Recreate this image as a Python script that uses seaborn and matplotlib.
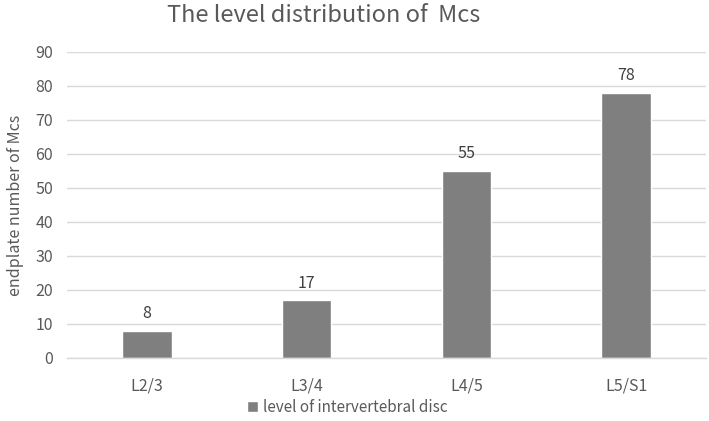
import matplotlib
matplotlib.use("Agg")
import matplotlib.pyplot as plt
import seaborn as sns
import pandas as pd

# data
levels = ["L2/3", "L3/4", "L4/5", "L5/S1"]
counts = [8, 17, 55, 78]
y_ticks = list(range(0, 100, 10))

df = pd.DataFrame({"level": levels, "count": counts})

sns.set_style("white")
plt.rcParams["font.family"] = ["Noto Sans CJK SC", "DejaVu Sans"]

text_col = "#595959"
bar_col = "#7f7f7f"

fig = plt.figure(figsize=(7.09, 4.21), dpi=100)
ax = fig.add_axes([67 / 709, 1 - 358 / 421, (706 - 67) / 709, (358 - 52) / 421])

sns.barplot(data=df, x="level", y="count", color=bar_col, width=0.31,
            saturation=1, ax=ax, label="level of intervertebral disc")
handles, labels = ax.get_legend_handles_labels()
if ax.get_legend() is not None:
    ax.get_legend().remove()

ax.set_ylim(0, 90)
ax.set_xlim(-0.5, 3.5)
ax.set_yticks(y_ticks)
ax.yaxis.grid(True, color="#d9d9d9", linewidth=1)
ax.set_axisbelow(True)
for s in ["top", "right", "left"]:
    ax.spines[s].set_visible(False)
ax.spines["bottom"].set_color("#d9d9d9")
ax.spines["bottom"].set_linewidth(1)

# category boundary ticks like excel
ax.set_xticks([i - 0.5 for i in range(len(levels) + 1)], minor=True)
ax.tick_params(axis="x", which="minor", length=5, color="#d9d9d9", width=1)
ax.tick_params(axis="x", which="major", length=0, pad=14, labelsize=11.5, labelcolor=text_col)
ax.tick_params(axis="y", length=0, pad=10, labelsize=11.5, labelcolor=text_col)

ax.set_xlabel("")
ax.set_ylabel("endplate number of Mcs", fontsize=11.5, color=text_col, labelpad=8)

for i, v in enumerate(counts):
    ax.text(i, v + 2.5, str(v), ha="center", va="bottom", fontsize=11.5, color="#404040")

fig.text(0.457, 0.963, "The level distribution of  Mcs", ha="center", va="center",
         fontsize=17, color=text_col, fontweight="light")

fig.legend(handles, labels, loc="center", bbox_to_anchor=(0.49, 1 - 407 / 421),
           frameon=False, fontsize=11, labelcolor=text_col, handlelength=0.7,
           handleheight=0.7, handletextpad=0.3)

fig.savefig("out.png", dpi=100)
